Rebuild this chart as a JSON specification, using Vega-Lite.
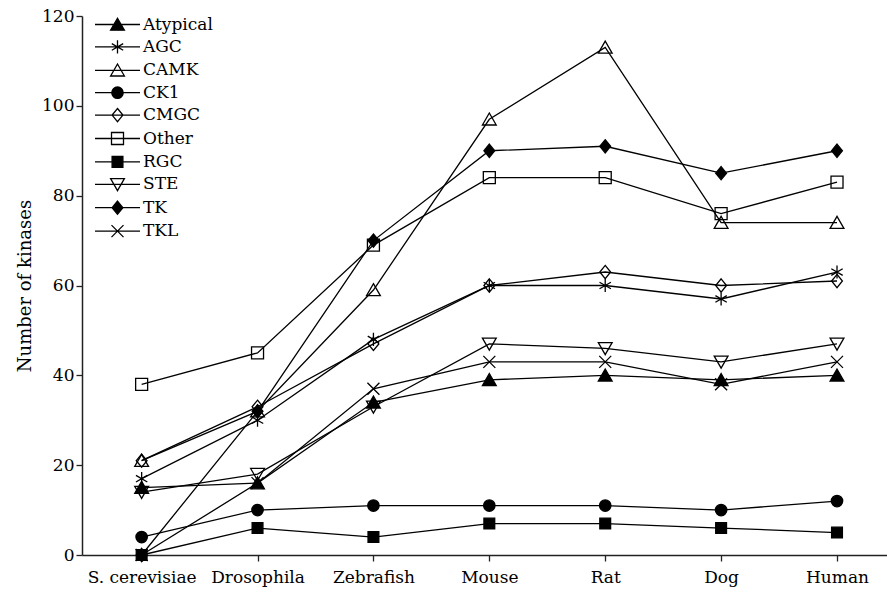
{
  "$schema": "https://vega.github.io/schema/vega-lite/v6.json",
  "width": 805,
  "height": 539,
  "autosize": {"type": "none"},
  "padding": {"left": 82, "top": 16, "right": 0, "bottom": 41},
  "background": "white",
  "config": {
    "font": "DejaVu Serif",
    "view": {"stroke": null},
    "axis": {"grid": false, "domainColor": "#222", "domainWidth": 1.5, "tickColor": "#222", "tickWidth": 1.3, "tickSize": 6, "labelFont": "DejaVu Serif", "titleFont": "DejaVu Serif", "labelFontSize": 17, "labelColor": "black", "titleFontSize": 18, "titleFontWeight": "normal", "titleColor": "black"}
  },
  "data": {"values": [
    {"group": "Atypical", "species": "S. cerevisiae", "kinases": 15},
    {"group": "Atypical", "species": "Drosophila", "kinases": 16},
    {"group": "Atypical", "species": "Zebrafish", "kinases": 34},
    {"group": "Atypical", "species": "Mouse", "kinases": 39},
    {"group": "Atypical", "species": "Rat", "kinases": 40},
    {"group": "Atypical", "species": "Dog", "kinases": 39},
    {"group": "Atypical", "species": "Human", "kinases": 40},
    {"group": "AGC", "species": "S. cerevisiae", "kinases": 17},
    {"group": "AGC", "species": "Drosophila", "kinases": 30},
    {"group": "AGC", "species": "Zebrafish", "kinases": 48},
    {"group": "AGC", "species": "Mouse", "kinases": 60},
    {"group": "AGC", "species": "Rat", "kinases": 60},
    {"group": "AGC", "species": "Dog", "kinases": 57},
    {"group": "AGC", "species": "Human", "kinases": 63},
    {"group": "CAMK", "species": "S. cerevisiae", "kinases": 21},
    {"group": "CAMK", "species": "Drosophila", "kinases": 32},
    {"group": "CAMK", "species": "Zebrafish", "kinases": 59},
    {"group": "CAMK", "species": "Mouse", "kinases": 97},
    {"group": "CAMK", "species": "Rat", "kinases": 113},
    {"group": "CAMK", "species": "Dog", "kinases": 74},
    {"group": "CAMK", "species": "Human", "kinases": 74},
    {"group": "CK1", "species": "S. cerevisiae", "kinases": 4},
    {"group": "CK1", "species": "Drosophila", "kinases": 10},
    {"group": "CK1", "species": "Zebrafish", "kinases": 11},
    {"group": "CK1", "species": "Mouse", "kinases": 11},
    {"group": "CK1", "species": "Rat", "kinases": 11},
    {"group": "CK1", "species": "Dog", "kinases": 10},
    {"group": "CK1", "species": "Human", "kinases": 12},
    {"group": "CMGC", "species": "S. cerevisiae", "kinases": 21},
    {"group": "CMGC", "species": "Drosophila", "kinases": 33},
    {"group": "CMGC", "species": "Zebrafish", "kinases": 47},
    {"group": "CMGC", "species": "Mouse", "kinases": 60},
    {"group": "CMGC", "species": "Rat", "kinases": 63},
    {"group": "CMGC", "species": "Dog", "kinases": 60},
    {"group": "CMGC", "species": "Human", "kinases": 61},
    {"group": "Other", "species": "S. cerevisiae", "kinases": 38},
    {"group": "Other", "species": "Drosophila", "kinases": 45},
    {"group": "Other", "species": "Zebrafish", "kinases": 69},
    {"group": "Other", "species": "Mouse", "kinases": 84},
    {"group": "Other", "species": "Rat", "kinases": 84},
    {"group": "Other", "species": "Dog", "kinases": 76},
    {"group": "Other", "species": "Human", "kinases": 83},
    {"group": "RGC", "species": "S. cerevisiae", "kinases": 0},
    {"group": "RGC", "species": "Drosophila", "kinases": 6},
    {"group": "RGC", "species": "Zebrafish", "kinases": 4},
    {"group": "RGC", "species": "Mouse", "kinases": 7},
    {"group": "RGC", "species": "Rat", "kinases": 7},
    {"group": "RGC", "species": "Dog", "kinases": 6},
    {"group": "RGC", "species": "Human", "kinases": 5},
    {"group": "STE", "species": "S. cerevisiae", "kinases": 14},
    {"group": "STE", "species": "Drosophila", "kinases": 18},
    {"group": "STE", "species": "Zebrafish", "kinases": 33},
    {"group": "STE", "species": "Mouse", "kinases": 47},
    {"group": "STE", "species": "Rat", "kinases": 46},
    {"group": "STE", "species": "Dog", "kinases": 43},
    {"group": "STE", "species": "Human", "kinases": 47},
    {"group": "TK", "species": "S. cerevisiae", "kinases": 0},
    {"group": "TK", "species": "Drosophila", "kinases": 32},
    {"group": "TK", "species": "Zebrafish", "kinases": 70},
    {"group": "TK", "species": "Mouse", "kinases": 90},
    {"group": "TK", "species": "Rat", "kinases": 91},
    {"group": "TK", "species": "Dog", "kinases": 85},
    {"group": "TK", "species": "Human", "kinases": 90},
    {"group": "TKL", "species": "S. cerevisiae", "kinases": 0},
    {"group": "TKL", "species": "Drosophila", "kinases": 16},
    {"group": "TKL", "species": "Zebrafish", "kinases": 37},
    {"group": "TKL", "species": "Mouse", "kinases": 43},
    {"group": "TKL", "species": "Rat", "kinases": 43},
    {"group": "TKL", "species": "Dog", "kinases": 38},
    {"group": "TKL", "species": "Human", "kinases": 43}
  ]},
  "encoding": {
    "x": {
      "field": "species", "type": "ordinal",
      "sort": ["S. cerevisiae", "Drosophila", "Zebrafish", "Mouse", "Rat", "Dog", "Human"],
      "scale": {"type": "point", "padding": 0.473, "align": 0.544},
      "axis": {"title": null, "labelAngle": 0, "labelPadding": 8}
    },
    "y": {
      "field": "kinases", "type": "quantitative",
      "scale": {"domain": [0, 120], "nice": false},
      "axis": {"title": "Number of kinases", "values": [0, 20, 40, 60, 80, 100, 120], "labelPadding": 2, "titlePadding": 7}
    }
  },
  "layer": [
    {
      "mark": {"type": "line", "color": "black", "strokeWidth": 1.3},
      "encoding": {"detail": {"field": "group"}}
    },
    {
      "mark": {"type": "point", "stroke": "black", "strokeWidth": 1.3, "size": 144, "opacity": 1},
      "encoding": {
        "shape": {
          "field": "group", "type": "nominal", "legend": null,
          "scale": {
            "domain": ["Atypical", "AGC", "CAMK", "CK1", "CMGC", "Other", "RGC", "STE", "TK", "TKL"],
            "range": [
              "M0,-1.05L1.15,0.95L-1.15,0.95Z",
              "M0,-1.1L0,1.1M-0.95,-0.55L0.95,0.55M-0.95,0.55L0.95,-0.55",
              "M0,-1.05L1.15,0.95L-1.15,0.95Z",
              "M0.95,0A0.95,0.95,0,1,1,-0.95,0A0.95,0.95,0,1,1,0.95,0Z",
              "M0,-1.1L0.9,0L0,1.1L-0.9,0Z",
              "M-1,-1H1V1H-1Z",
              "M-0.9,-0.9H0.9V0.9H-0.9Z",
              "M0,1.05L1.15,-0.95L-1.15,-0.95Z",
              "M0,-1.1L0.9,0L0,1.1L-0.9,0Z",
              "M-1,-1L1,1M-1,1L1,-1"
            ]
          }
        },
        "fill": {
          "field": "group", "type": "nominal", "legend": null,
          "scale": {
            "domain": ["Atypical", "AGC", "CAMK", "CK1", "CMGC", "Other", "RGC", "STE", "TK", "TKL"],
            "range": ["black", "transparent", "transparent", "black", "transparent", "transparent", "black", "transparent", "black", "transparent"]
          }
        }
      }
    },
    {
      "mark": {"type": "point", "filled": true, "stroke": "black", "strokeWidth": 1.3, "size": 144, "opacity": 0},
      "encoding": {
        "shape": {
          "field": "group", "type": "nominal",
          "scale": {
            "domain": ["Atypical", "AGC", "CAMK", "CK1", "CMGC", "Other", "RGC", "STE", "TK", "TKL"],
            "range": [
              "M-3.75,0H3.75M0,-1.05L1.15,0.95L-1.15,0.95Z",
              "M-3.75,0H3.75M0,-1.1L0,1.1M-0.95,-0.55L0.95,0.55M-0.95,0.55L0.95,-0.55",
              "M-3.75,0H3.75M0,-1.05L1.15,0.95L-1.15,0.95Z",
              "M-3.75,0H3.75M0.95,0A0.95,0.95,0,1,1,-0.95,0A0.95,0.95,0,1,1,0.95,0Z",
              "M-3.75,0H3.75M0,-1.1L0.9,0L0,1.1L-0.9,0Z",
              "M-3.75,0H3.75M-1,-1H1V1H-1Z",
              "M-3.75,0H3.75M-0.9,-0.9H0.9V0.9H-0.9Z",
              "M-3.75,0H3.75M0,1.05L1.15,-0.95L-1.15,-0.95Z",
              "M-3.75,0H3.75M0,-1.1L0.9,0L0,1.1L-0.9,0Z",
              "M-3.75,0H3.75M-1,-1L1,1M-1,1L1,-1"
            ]
          },
          "legend": {
            "title": null, "orient": "none", "legendX": 27, "legendY": 0, "padding": 0,
            "symbolSize": 144, "symbolStrokeWidth": 1.3, "labelFontSize": 17, "labelFont": "DejaVu Serif",
            "labelColor": "black", "labelOffset": 17, "rowPadding": 4.4,
            "encode": {"symbols": {"update": {
              "opacity": {"value": 1},
              "stroke": {"value": "black"},
              "strokeWidth": {"value": 1.3}
            }}}
          }
        },
        "color": {
          "field": "group", "type": "nominal",
          "scale": {
            "domain": ["Atypical", "AGC", "CAMK", "CK1", "CMGC", "Other", "RGC", "STE", "TK", "TKL"],
            "range": ["black", "transparent", "transparent", "black", "transparent", "transparent", "black", "transparent", "black", "transparent"]
          },
          "legend": {
            "title": null, "orient": "none", "legendX": 27, "legendY": 0, "padding": 0,
            "symbolSize": 144, "symbolStrokeWidth": 1.3, "labelFontSize": 17, "labelFont": "DejaVu Serif",
            "labelColor": "black", "labelOffset": 17, "rowPadding": 4.4,
            "encode": {"symbols": {"update": {
              "opacity": {"value": 1},
              "stroke": {"value": "black"},
              "strokeWidth": {"value": 1.3}
            }}}
          }
        }
      }
    }
  ],
  "resolve": {"scale": {"shape": "independent", "color": "independent"}, "legend": {"shape": "independent", "color": "independent"}}
}
